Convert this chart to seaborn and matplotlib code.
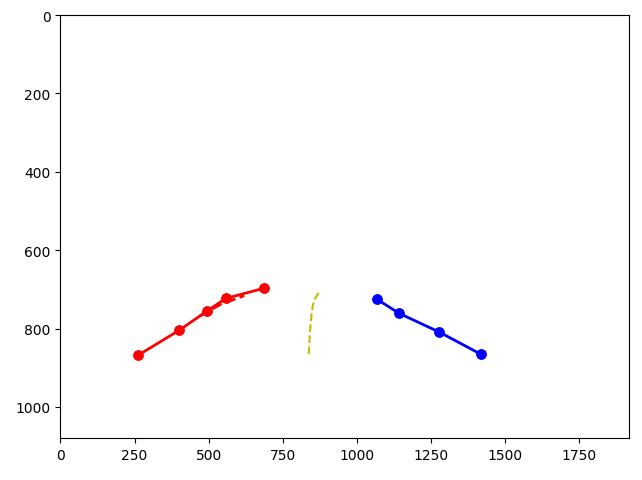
import matplotlib
matplotlib.use("Agg")
import matplotlib.pyplot as plt
import seaborn as sns

# left lane points (solid + markers)
left_x = [262, 401, 493, 558, 687]
left_y = [868, 804, 756, 723, 697]

# left lane fit (dashed)
left_fit_x = [470, 540, 620]
left_fit_y = [768, 738, 716]

# centre path (dashed yellow)
mid_x = [838, 842, 847, 852, 860, 872]
mid_y = [865, 810, 765, 740, 722, 708]

# right lane points
right_x = [1068, 1143, 1279, 1418]
right_y = [725, 761, 809, 865]

fig, ax = plt.subplots(figsize=(6.42, 4.81), dpi=100)

sns.lineplot(x=left_x, y=left_y, ax=ax, color='r', marker='o', sort=False,
             linewidth=2, markersize=7, markeredgecolor='r')
sns.lineplot(x=left_fit_x, y=left_fit_y, ax=ax, color='r', linestyle='--',
             sort=False, linewidth=2)
sns.lineplot(x=mid_x, y=mid_y, ax=ax, color='y', linestyle='--',
             sort=False, linewidth=1.5)
sns.lineplot(x=right_x, y=right_y, ax=ax, color='b', marker='o', sort=False,
             linewidth=2, markersize=7, markeredgecolor='b')

ax.set_xlim(-0.5, 1919.5)
ax.set_ylim(1079.5, -0.5)
ax.set_xticks([0, 250, 500, 750, 1000, 1250, 1500, 1750])
ax.set_yticks([0, 200, 400, 600, 800, 1000])

fig.subplots_adjust(left=0.094, right=0.98, top=0.967, bottom=0.087)
plt.savefig("out.png")
